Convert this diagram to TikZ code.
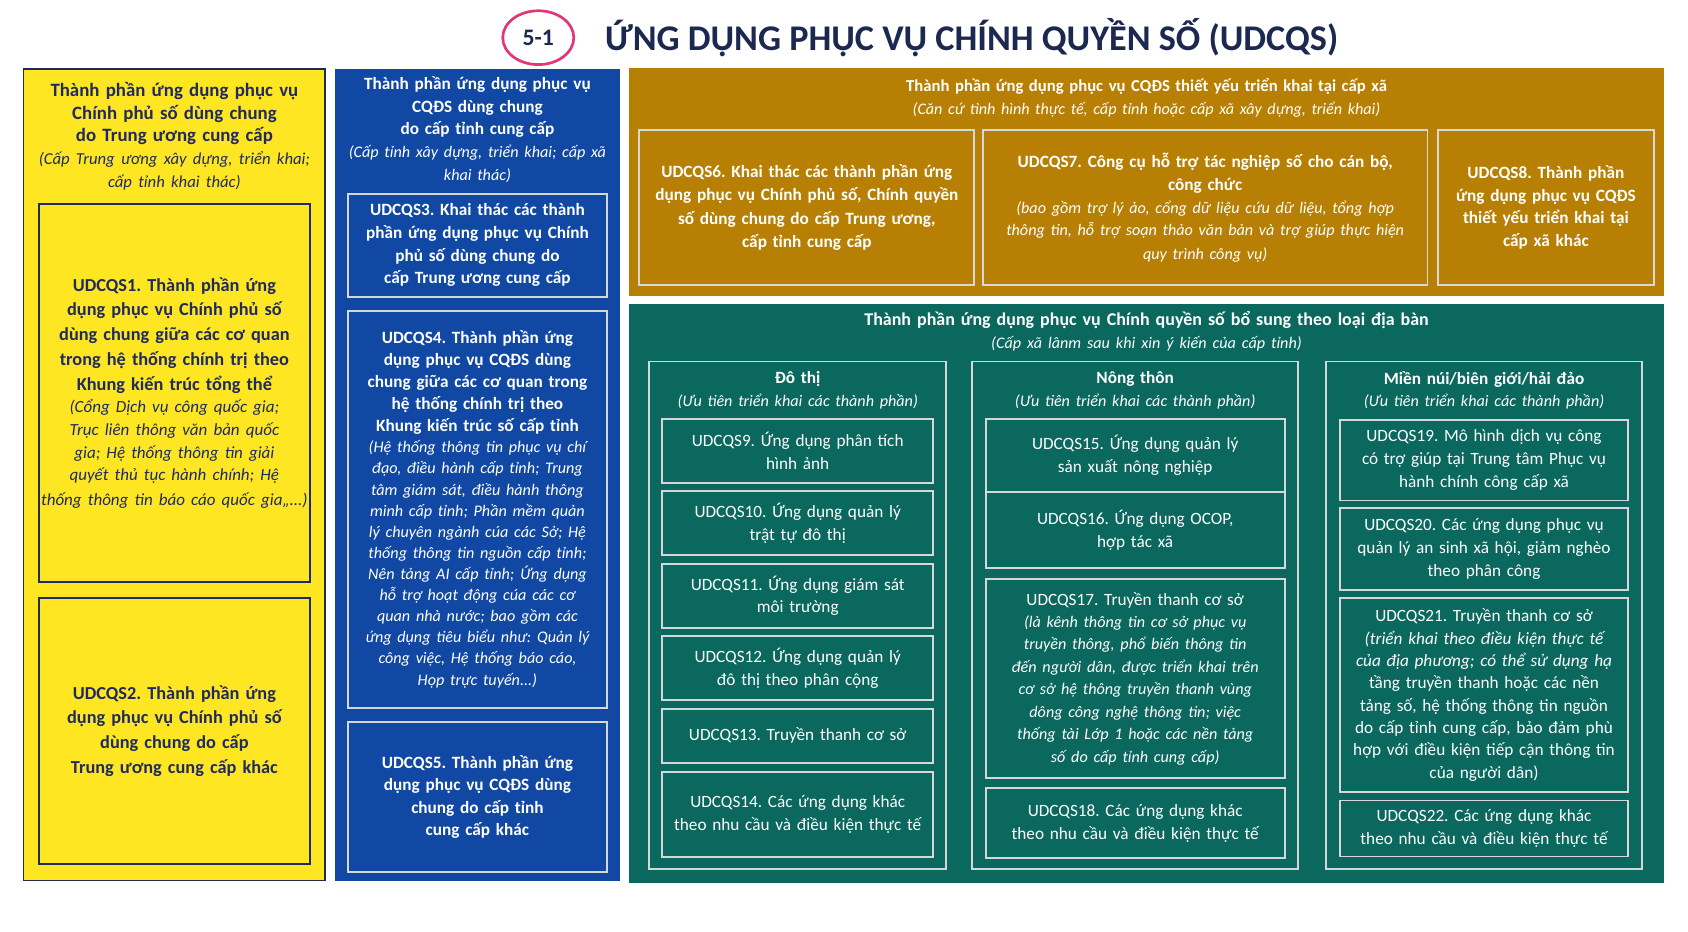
\documentclass[tikz,border=0pt]{standalone}
\usepackage{fontspec}
\setmainfont{Carlito}
\usepackage{tikz}
\usetikzlibrary{shapes.geometric, positioning}
\frenchspacing

\definecolor{udnavy}{RGB}{31,43,94}
\definecolor{udtitle}{RGB}{27,40,80}
\definecolor{udpink}{RGB}{226,54,120}
\definecolor{udyellow}{RGB}{255,230,35}
\definecolor{udblue}{RGB}{16,72,164}
\definecolor{udgold}{RGB}{183,128,4}
\definecolor{udteal}{RGB}{10,104,94}
\definecolor{udline}{RGB}{212,216,216}

\tikzstyle{ypanel} = [rectangle, inner sep=0pt, fill=udyellow, draw=udnavy, line width=1.2pt, minimum width=280pt, minimum height=754pt]
\tikzstyle{bpanel} = [rectangle, inner sep=0pt, fill=udblue, minimum width=265pt, minimum height=754pt]
\tikzstyle{opanel} = [rectangle, inner sep=0pt, fill=udgold, minimum width=962pt, minimum height=212pt]
\tikzstyle{tpanel} = [rectangle, inner sep=0pt, fill=udteal, minimum width=962pt, minimum height=538pt]
\tikzstyle{yhead} = [text=udnavy, align=center, text width=270pt, inner sep=0pt, font=\fontsize{17.5}{21}\selectfont\bfseries]
\tikzstyle{bhead} = [text=white, align=center, text width=258pt, inner sep=0pt, font=\fontsize{16}{21}\selectfont\bfseries]
\tikzstyle{ohead} = [text=white, align=center, text width=900pt, inner sep=0pt, font=\fontsize{15.5}{22}\selectfont\bfseries]
\tikzstyle{thead} = [text=white, align=center, text width=900pt, inner sep=0pt, font=\fontsize{16.7}{22}\selectfont\bfseries]
\tikzstyle{ghead} = [text=white, align=center, text width=280pt, inner sep=0pt, font=\fontsize{16}{21}\selectfont\bfseries]
\tikzstyle{ybox} = [rectangle, draw=udnavy, line width=1.5pt, text=udnavy, align=center, minimum width=252pt, text width=250pt, inner sep=1pt, font=\fontsize{17}{23}\selectfont\bfseries]
\tikzstyle{bbox} = [rectangle, draw=udline, line width=1.8pt, text=white, align=center, minimum width=241pt, text width=235pt, inner sep=2pt, font=\fontsize{16}{21}\selectfont\bfseries]
\tikzstyle{obox} = [rectangle, draw=udline, line width=1.8pt, text=white, align=center, inner sep=2pt, font=\fontsize{16}{21.7}\selectfont\bfseries]
\tikzstyle{grp} = [rectangle, draw=udline, line width=1.8pt, minimum height=471pt]
\tikzstyle{tbox} = [rectangle, draw=udline, line width=1.8pt, text=white, align=center, inner sep=2pt, font=\fontsize{16}{21}\selectfont]
\tikzstyle{ubox} = [tbox, minimum width=252pt, text width=246pt]
\tikzstyle{rbox} = [tbox, minimum width=278pt, text width=272pt]
\tikzstyle{mbox} = [tbox, minimum width=267pt, text width=261pt]

\begin{document}
\begin{tikzpicture}[x=1pt, y=1pt, on grid]

  \useasboundingbox (0,0) rectangle (1568,-865.7);
  \fill[white] (0,0) rectangle (1568,-865.7);

  % title
  \node (num) [ellipse, draw=udpink, line width=2.5pt, minimum width=66pt, minimum height=50pt, inner sep=0pt, text=udtitle, font=\fontsize{22}{22}\selectfont\bfseries] at (500,-35) {5-1};
  \node (title) [anchor=west, text=udtitle, inner sep=0pt, font=\fontsize{33.6}{34}\selectfont\bfseries] at (562,-35) {ỨNG DỤNG PHỤC VỤ CHÍNH QUYỀN SỐ (UDCQS)};

  % four panels
  \node (ylw) [ypanel] at (162,-441) {};
  \node (blu) [bpanel] at (443.5,-441) {};
  \node (gld) [opanel] at (1065,-169) {};
  \node (tel) [tpanel] at (1065,-551) {};

  % yellow column
  \node (ylwhead) [yhead, yshift=-63pt] at (ylw.north) {Thành phần ứng dụng phục vụ\\Chính phủ số dùng chung\\do Trung ương cung cấp\par\fontsize{15.5}{21}\selectfont\mdseries\itshape (Cấp Trung ương xây dựng, triển khai;\\cấp tỉnh khai thác)};
  \node (s1) [ybox, minimum height=351pt, below=238.5pt of ylwhead] {UDCQS1. Thành phần ứng\\dụng phục vụ Chính phủ số\\dùng chung giữa các cơ quan\\trong hệ thống chính trị theo\\Khung kiến trúc tổng thể\par\fontsize{15.8}{21}\selectfont\mdseries\itshape (Cổng Dịch vụ công quốc gia;\\Trục liên thông văn bản quốc\\gia; Hệ thống thông tin giải\\quyết thủ tục hành chính; Hệ\\thống thông tin báo cáo quốc gia,,...)};
  \node (s2) [ybox, minimum height=247pt, below=314pt of s1] {UDCQS2. Thành phần ứng\\dụng phục vụ Chính phủ số\\dùng chung do cấp\\Trung ương cung cấp khác};

  % blue column
  \node (bluhead) [bhead, yshift=-56.5pt] at (blu.north) {Thành phần ứng dụng phục vụ\\CQĐS dùng chung\\do cấp tỉnh cung cấp\par\fontsize{15}{21}\selectfont\mdseries\itshape (Cấp tỉnh xây dựng, triển khai; cấp xã\\khai thác)};
  \node (s3) [bbox, minimum height=96pt, below=107.5pt of bluhead] {UDCQS3. Khai thác các thành\\phần ứng dụng phục vụ Chính\\phủ số dùng chung do\\cấp Trung ương cung cấp};
  \node (s4) [bbox, minimum height=369pt, below=245.5pt of s3, font=\fontsize{16}{20.5}\selectfont\bfseries] {UDCQS4. Thành phần ứng\\dụng phục vụ CQĐS dùng\\chung giữa các cơ quan trong\\hệ thống chính trị theo\\Khung kiến trúc số cấp tỉnh\par\fontsize{15}{19.6}\selectfont\mdseries\itshape (Hệ thống thông tin phục vụ chí\\đạo, điều hành cấp tỉnh; Trung\\tâm giám sát, điều hành thông\\minh cấp tỉnh; Phần mềm quản\\lý chuyên ngành cúa các Sở; Hệ\\thống thông tin nguồn cấp tỉnh;\\Nên tảng AI cấp tỉnh; Ứng dụng\\hỗ trợ hoạt động cúa các cơ\\quan nhà nước; bao gồm các\\ứng dụng tiêu biểu như: Quản lý\\công việc, Hệ thống báo cáo,\\Họp trực tuyến...)};
  \node (s5) [bbox, minimum height=139pt, below=267pt of s4] {UDCQS5. Thành phần ứng\\dụng phục vụ CQĐS dùng\\chung do cấp tỉnh\\cung cấp khác};

  % gold block
  \node (gldhead) [ohead, yshift=-28pt] at (gld.north) {Thành phần ứng dụng phục vụ CQĐS thiết yếu triển khai tại cấp xã\par\fontsize{15}{22}\selectfont\mdseries\itshape (Căn cứ tình hình thực tế, cấp tỉnh hoặc cấp xã xây dựng, triển khai)};
  \node (s7) [obox, minimum width=413pt, text width=405pt, minimum height=144pt, below right=102pt and 54.5pt of gldhead] {UDCQS7. Công cụ hỗ trợ tác nghiệp số cho cán bộ,\\công chức\par\fontsize{15}{21}\selectfont\mdseries\itshape (bao gồm trợ lý ảo, cổng dữ liệu cứu dữ liệu, tổng hợp\\thông tin, hỗ trợ soạn thảo văn bản và trợ giúp thực hiện\\quy trình công vụ)};
  \node (s6) [obox, minimum width=311pt, text width=303pt, minimum height=144pt, left=370pt of s7] {UDCQS6. Khai thác các thành phần ứng\\dụng phục vụ Chính phủ số, Chính quyền\\số dùng chung do cấp Trung ương,\\cấp tỉnh cung cấp};
  \node (s8) [obox, minimum width=200pt, text width=192pt, minimum height=144pt, right=316.5pt of s7, font=\fontsize{16}{21}\selectfont\bfseries] {UDCQS8. Thành phần\\ứng dụng phục vụ CQĐS\\thiết yếu triển khai tại\\cấp xã khác};

  % teal block
  \node (telhead) [thead, yshift=-26pt] at (tel.north) {Thành phần ứng dụng phục vụ Chính quyền số bổ sung theo loại địa bàn\par\fontsize{15}{22}\selectfont\mdseries\itshape (Cấp xã lânm sau khi xin ý kiến của cấp tỉnh)};
  \node (urb) [grp, minimum width=276pt, below left=263.5pt and 324pt of telhead] {};
  \node (rur) [grp, minimum width=303pt, right=313.5pt of urb] {};
  \node (mnt) [grp, minimum width=293pt, right=324pt of rur] {};
  \node (urbhead) [ghead, yshift=-27.5pt] at (urb.north) {Đô thị\par\fontsize{15}{21}\selectfont\mdseries\itshape (Ưu tiên triển khai các thành phần)};
  \node (rurhead) [ghead, yshift=-27.5pt] at (rur.north) {Nông thôn\par\fontsize{15}{21}\selectfont\mdseries\itshape (Ưu tiên triển khai các thành phần)};
  \node (mnthead) [ghead, yshift=-27.5pt] at (mnt.north) {Miền núi/biên giới/hải đảo\par\fontsize{15}{21}\selectfont\mdseries\itshape (Ưu tiên triển khai các thành phần)};

  \node (s9) [ubox, minimum height=59.5pt, below=56.25pt of urbhead] {UDCQS9. Ứng dụng phân tích\\hình ảnh};
  \node (s10) [ubox, minimum height=59.5pt, below=67.3pt of s9] {UDCQS10. Ứng dụng quản lý\\trật tự đô thị};
  \node (s11) [ubox, minimum height=59.4pt, below=67.3pt of s10] {UDCQS11. Ứng dụng giám sát\\môi trường};
  \node (s12) [ubox, minimum height=59.4pt, below=67.4pt of s11] {UDCQS12. Ứng dụng quản lý\\đô thị theo phân cộng};
  \node (s13) [ubox, minimum height=50.8pt, below=62.9pt of s12] {UDCQS13. Truyền thanh cơ sở};
  \node (s14) [ubox, minimum height=79pt, below=72.7pt of s13] {UDCQS14. Các ứng dụng khác\\theo nhu cầu và điều kiện thực tế};

  \node (s15) [rbox, minimum height=68.4pt, below=60.7pt of rurhead] {UDCQS15. Ứng dụng quản lý\\sản xuất nông nghiệp};
  \node (s16) [rbox, minimum height=70.4pt, below=69.4pt of s15] {UDCQS16. Ứng dụng OCOP,\\hợp tác xã};
  \node (s17) [rbox, minimum height=185.2pt, below=137.8pt of s16] {UDCQS17. Truyền thanh cơ sở\par\fontsize{15}{20.8}\selectfont\itshape (là kênh thông tin cơ sở phục vụ\\truyền thông, phổ biến thông tin\\đến người dân, được triển khai trên\\cơ sở hệ thông truyền thanh vùng\\dông công nghệ thông tin; việc\\thống tài Lớp 1 hoặc các nền tảng\\số do cấp tỉnh cung cấp)};
  \node (s18) [rbox, minimum height=64.6pt, below=134.3pt of s17] {UDCQS18. Các ứng dụng khác\\theo nhu cầu và điều kiện thực tế};

  \node (s19) [mbox, minimum height=75.2pt, below=64.9pt of mnthead] {UDCQS19. Mô hình dịch vụ công\\có trợ giúp tại Trung tâm Phục vụ\\hành chính công cấp xã};
  \node (s20) [mbox, minimum height=76.2pt, below=82.5pt of s19] {UDCQS20. Các ứng dụng phục vụ\\quản lý an sinh xã hội, giảm nghèo\\theo phân công};
  \node (s21) [mbox, minimum height=180.6pt, below=135.8pt of s20, font=\fontsize{16}{20.8}\selectfont] {UDCQS21. Truyền thanh cơ sở\\{\itshape (triển khai theo điều kiện thực tế}\\{\itshape của địa phương; có thể sử dụng hạ}\\tầng truyền thanh hoặc các nền\\tảng số, hệ thống thông tin nguồn\\do cấp tỉnh cung cấp, bảo đảm phù\\hợp với điều kiện tiếp cận thông tin\\của người dân)};
  \node (s22) [mbox, minimum height=52pt, below=124pt of s21] {UDCQS22. Các ứng dụng khác\\theo nhu cầu và điều kiện thực tế};

\end{tikzpicture}
\end{document}
